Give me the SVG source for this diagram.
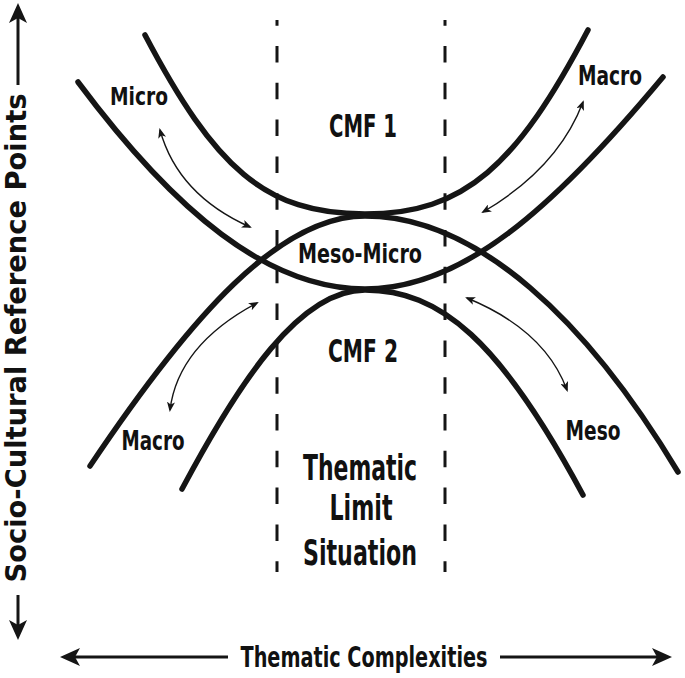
<svg xmlns="http://www.w3.org/2000/svg" width="685" height="678" viewBox="0 0 685 678">
<style>
.t{font-family:'DejaVu Sans Condensed','DejaVu Sans','Liberation Sans',sans-serif;font-weight:bold;font-stretch:condensed;fill:#111;text-anchor:middle}
.c{fill:none;stroke:#151515;stroke-width:5.5;stroke-linecap:round}
.d{fill:none;stroke:#151515;stroke-width:3;stroke-dasharray:16.5 20.3;stroke-dashoffset:10.8}
.s{fill:none;stroke:#151515;stroke-width:1.4}
.ax{fill:none;stroke:#151515;stroke-width:3}
</style>
<defs>
<marker id="ah" viewBox="0 0 20 20" refX="5" refY="10" markerWidth="20" markerHeight="20" markerUnits="userSpaceOnUse" orient="auto-start-reverse">
<path d="M0,1 L20,10 L0,19 L5,10 z" fill="#151515"/>
</marker>
<marker id="sh" viewBox="0 0 10 8" refX="8" refY="4" markerWidth="10" markerHeight="8" markerUnits="userSpaceOnUse" orient="auto-start-reverse">
<path d="M0,0 L10,4 L0,8 L2.5,4 z" fill="#151515"/>
</marker>
</defs>
<rect width="685" height="678" fill="#fff"/>
<g id="dashed">
<line class="d" x1="277" y1="20" x2="277" y2="572"/>
<line class="d" x1="445" y1="20" x2="445" y2="572"/>
</g>
<g id="curves">
<path id="curve-cmf1" class="c" d="M145,35 C215,168 265,214 365,214 C465,214 517,165 588,30"/>
<path id="curve-upper-outer" class="c" d="M78,82 C175,212 268,289 365,289 C462,289 552,210 663,77"/>
<path id="curve-lower-outer" class="c" d="M90,466 C192,314 280,216 365,216 C478,216 588,322 678,472"/>
<path id="curve-cmf2" class="c" d="M182,489 C240,380 300,290 365,290 C440,290 500,340 583,495"/>
</g>
<g id="connectors">
<path class="s" d="M160,130 Q178,195 250,227" marker-start="url(#sh)" marker-end="url(#sh)"/>
<path class="s" d="M583,102 Q558,168 483,212" marker-start="url(#sh)" marker-end="url(#sh)"/>
<path class="s" d="M257,303 Q178,345 170,410" marker-start="url(#sh)" marker-end="url(#sh)"/>
<path class="s" d="M467,298 Q545,330 567,390" marker-start="url(#sh)" marker-end="url(#sh)"/>
<path class="ax" d="M18,85 L18,18" marker-end="url(#ah)"/>
<path class="ax" d="M18,595 L18,625" marker-end="url(#ah)"/>
<path class="ax" d="M228,657 L75,657" marker-end="url(#ah)"/>
<path class="ax" d="M500,657 L657,657" marker-end="url(#ah)"/>
</g>
<g id="label-micro"><text class="t" x="139" y="105" font-size="25" textLength="58" lengthAdjust="spacingAndGlyphs">Micro</text></g>
<g id="label-macro-top"><text class="t" x="610" y="85" font-size="26" textLength="64" lengthAdjust="spacingAndGlyphs">Macro</text></g>
<g id="label-macro-bottom"><text class="t" x="153" y="450" font-size="26" textLength="63" lengthAdjust="spacingAndGlyphs">Macro</text></g>
<g id="label-meso"><text class="t" x="593" y="440" font-size="26" textLength="55" lengthAdjust="spacingAndGlyphs">Meso</text></g>
<g id="label-meso-micro"><text class="t" x="360" y="263" font-size="27" textLength="124" lengthAdjust="spacingAndGlyphs">Meso-Micro</text></g>
<g id="label-cmf1"><text class="t" x="363" y="137" font-size="32" textLength="68" lengthAdjust="spacingAndGlyphs">CMF 1</text></g>
<g id="label-cmf2"><text class="t" x="363" y="362" font-size="32" textLength="70" lengthAdjust="spacingAndGlyphs">CMF 2</text></g>
<g id="label-tls">
<text class="t" x="360" y="480" font-size="35" textLength="114" lengthAdjust="spacingAndGlyphs">Thematic</text>
<text class="t" x="361" y="520" font-size="35" textLength="63" lengthAdjust="spacingAndGlyphs">Limit</text>
<text class="t" x="360" y="565" font-size="35" textLength="114" lengthAdjust="spacingAndGlyphs">Situation</text>
</g>
<g id="axis-x-label"><text class="t" x="364" y="667" font-size="29" textLength="247" lengthAdjust="spacingAndGlyphs">Thematic Complexities</text></g>
<g id="axis-y-label"><text class="t" transform="translate(26,338) rotate(-90)" font-size="28" textLength="489" lengthAdjust="spacingAndGlyphs">Socio-Cultural Reference Points</text></g>
</svg>
